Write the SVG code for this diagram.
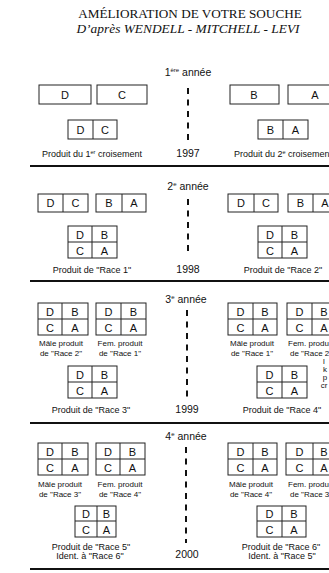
<svg xmlns="http://www.w3.org/2000/svg" width="329" height="573" viewBox="0 0 329 573">
<style>
.bx{fill:#fff;stroke:#222;stroke-width:1}
.dv{stroke:#222;stroke-width:1}
.l{font-family:"Liberation Sans",Arial,sans-serif;font-size:11px;fill:#111;text-anchor:middle}
.t{font-family:"Liberation Sans",Arial,sans-serif;font-size:9px;fill:#111;text-anchor:middle}
.s{font-family:"Liberation Sans",Arial,sans-serif;font-size:8px;fill:#111;text-anchor:middle}
.st{text-anchor:start}
.y{font-family:"Liberation Sans",Arial,sans-serif;font-size:10.5px;fill:#111;text-anchor:middle}
.sep{stroke:#111;stroke-width:2}
.dash{stroke:#111;stroke-width:2;stroke-dasharray:6 5.5}
</style>
<rect width="329" height="573" fill="#fff"/>
<g id="title">
<text x="190" y="18" font-family="Liberation Serif,'Times New Roman',serif" font-size="13.2" text-anchor="middle" fill="#111">AMÉLIORATION DE VOTRE SOUCHE</text>
<text x="188" y="33" font-family="Liberation Serif,'Times New Roman',serif" font-size="13.4" font-style="italic" text-anchor="middle" fill="#111">D’après WENDELL - MITCHELL - LEVI</text>
</g>
<g id="connectors">
<line class="sep" x1="30" y1="166" x2="329" y2="166"/>
<line class="sep" x1="30" y1="281" x2="329" y2="281"/>
<line class="sep" x1="30" y1="423" x2="329" y2="423"/>
<line class="sep" x1="30" y1="569" x2="329" y2="569"/>
<line class="dash" x1="188" y1="88" x2="188" y2="142"/>
<line class="dash" x1="188" y1="199" x2="188" y2="253"/>
<line class="dash" x1="187" y1="310" x2="187" y2="402"/>
<line class="dash" x1="186" y1="447" x2="186" y2="543"/>
</g>
<g id="years">
<text class="y" x="188" y="76">1<tspan font-size="6" dy="-4">ère</tspan><tspan dy="4"> année</tspan></text>
<text class="y" x="188" y="157">1997</text>
<text class="y" x="188" y="190">2<tspan font-size="6" dy="-4">e</tspan><tspan dy="4"> année</tspan></text>
<text class="y" x="188" y="273">1998</text>
<text class="y" x="186" y="303">3<tspan font-size="6" dy="-4">e</tspan><tspan dy="4"> année</tspan></text>
<text class="y" x="187" y="413">1999</text>
<text class="y" x="186" y="440">4<tspan font-size="6" dy="-4">e</tspan><tspan dy="4"> année</tspan></text>
<text class="y" x="187" y="558">2000</text>
</g>
<!-- Section 1 -->
<g id="s1-D"><rect class="bx" x="39" y="85" width="52" height="19"/><text class="l" x="65" y="99">D</text></g>
<g id="s1-C"><rect class="bx" x="97" y="85" width="50" height="19"/><text class="l" x="122" y="99">C</text></g>
<g id="s1-B"><rect class="bx" x="230" y="85" width="49" height="19"/><text class="l" x="254" y="99">B</text></g>
<g id="s1-A"><rect class="bx" x="288" y="85" width="50" height="19"/><text class="l" x="315" y="99">A</text></g>
<g id="s1-DC"><rect class="bx" x="68" y="120" width="49" height="19"/><line class="dv" x1="93" y1="120" x2="93" y2="139"/><text class="l" x="80.5" y="134">D</text><text class="l" x="105" y="134">C</text><text class="t" x="92" y="157">Produit du 1<tspan font-size="5.5" dy="-3.5">er</tspan><tspan dy="3.5"> croisement</tspan></text></g>
<g id="s1-BA"><rect class="bx" x="258" y="120" width="50" height="19"/><line class="dv" x1="283" y1="120" x2="283" y2="139"/><text class="l" x="270.5" y="134">B</text><text class="l" x="295.5" y="134">A</text><text class="t st" x="234" y="157" font-size="8.8">Produit du 2<tspan font-size="5.5" dy="-3.5">e</tspan><tspan dy="3.5"> croisemen</tspan></text></g>
<!-- Section 2 -->
<g id="s2-DC-l"><rect class="bx" x="38" y="194" width="50" height="18"/><line class="dv" x1="63" y1="194" x2="63" y2="212"/><text class="l" x="50.5" y="207">D</text><text class="l" x="75.5" y="207">C</text></g>
<g id="s2-BA-l"><rect class="bx" x="96" y="194" width="50" height="18"/><line class="dv" x1="122" y1="194" x2="122" y2="212"/><text class="l" x="109" y="207">B</text><text class="l" x="134" y="207">A</text></g>
<g id="s2-DC-r"><rect class="bx" x="228" y="194" width="50" height="18"/><line class="dv" x1="254" y1="194" x2="254" y2="212"/><text class="l" x="241" y="207">D</text><text class="l" x="266" y="207">C</text></g>
<g id="s2-BA-r"><rect class="bx" x="288" y="194" width="50" height="18"/><line class="dv" x1="313" y1="194" x2="313" y2="212"/><text class="l" x="300.5" y="207">B</text><text class="l" x="325" y="207">A</text></g>
<g id="s2-race1"><rect class="bx" x="68" y="226" width="49" height="32"/><line class="dv" x1="92" y1="226" x2="92" y2="258"/><line class="dv" x1="68" y1="242" x2="117" y2="242"/><text class="l" x="80" y="239">D</text><text class="l" x="104.5" y="239">B</text><text class="l" x="80" y="255">C</text><text class="l" x="104.5" y="255">A</text><text class="t" x="92" y="273">Produit de "Race 1"</text></g>
<g id="s2-race2"><rect class="bx" x="258" y="226" width="49" height="32"/><line class="dv" x1="282" y1="226" x2="282" y2="258"/><line class="dv" x1="258" y1="242" x2="307" y2="242"/><text class="l" x="270" y="239">D</text><text class="l" x="294.5" y="239">B</text><text class="l" x="270" y="255">C</text><text class="l" x="294.5" y="255">A</text><text class="t" x="283" y="273">Produit de "Race 2"</text></g>
<!-- Section 3 -->
<g id="s3-m-l"><rect class="bx" x="38" y="303" width="50" height="32"/><line class="dv" x1="62" y1="303" x2="62" y2="335"/><line class="dv" x1="38" y1="319" x2="88" y2="319"/><text class="l" x="50" y="316">D</text><text class="l" x="75" y="316">B</text><text class="l" x="50" y="332">C</text><text class="l" x="75" y="332">A</text><text class="s" x="61" y="346">Mâle produit</text><text class="s" x="61" y="356">de "Race 2"</text></g>
<g id="s3-f-l"><rect class="bx" x="96" y="303" width="50" height="32"/><line class="dv" x1="121" y1="303" x2="121" y2="335"/><line class="dv" x1="96" y1="319" x2="146" y2="319"/><text class="l" x="108.5" y="316">D</text><text class="l" x="133.5" y="316">B</text><text class="l" x="108.5" y="332">C</text><text class="l" x="133.5" y="332">A</text><text class="s" x="120" y="346">Fem. produit</text><text class="s" x="120" y="356">de "Race 1"</text></g>
<g id="s3-m-r"><rect class="bx" x="228" y="303" width="49" height="32"/><line class="dv" x1="253" y1="303" x2="253" y2="335"/><line class="dv" x1="228" y1="319" x2="277" y2="319"/><text class="l" x="240.5" y="316">D</text><text class="l" x="265" y="316">B</text><text class="l" x="240.5" y="332">C</text><text class="l" x="265" y="332">A</text><text class="s" x="252" y="346">Mâle produit</text><text class="s" x="252" y="356">de "Race 1"</text></g>
<g id="s3-f-r"><rect class="bx" x="287" y="303" width="50" height="32"/><line class="dv" x1="312" y1="303" x2="312" y2="335"/><line class="dv" x1="287" y1="319" x2="337" y2="319"/><text class="l" x="299.5" y="316">D</text><text class="l" x="324" y="316">B</text><text class="l" x="299.5" y="332">C</text><text class="l" x="324" y="332">A</text><text class="s st" x="288" y="346">Fem. produ</text><text class="s st" x="290" y="356">de "Race 2</text></g>
<g id="s3-race3"><rect class="bx" x="68" y="366" width="49" height="32"/><line class="dv" x1="92" y1="366" x2="92" y2="398"/><line class="dv" x1="68" y1="382" x2="117" y2="382"/><text class="l" x="80" y="379">D</text><text class="l" x="104.5" y="379">B</text><text class="l" x="80" y="395">C</text><text class="l" x="104.5" y="395">A</text><text class="t" x="91" y="413">Produit de "Race 3"</text></g>
<g id="s3-race4"><rect class="bx" x="257" y="366" width="50" height="32"/><line class="dv" x1="282" y1="366" x2="282" y2="398"/><line class="dv" x1="257" y1="382" x2="307" y2="382"/><text class="l" x="269.5" y="379">D</text><text class="l" x="294.5" y="379">B</text><text class="l" x="269.5" y="395">C</text><text class="l" x="294.5" y="395">A</text><text class="t" x="282" y="413">Produit de "Race 4"</text></g>
<g id="s3-note"><text class="s" x="324" y="364">l</text><text class="s" x="325" y="372">k</text><text class="s" x="325" y="380">p</text><text class="s" x="324" y="388">cr</text></g>
<!-- Section 4 -->
<g id="s4-m-l"><rect class="bx" x="38" y="443" width="50" height="32"/><line class="dv" x1="62" y1="443" x2="62" y2="475"/><line class="dv" x1="38" y1="459" x2="88" y2="459"/><text class="l" x="50" y="456">D</text><text class="l" x="75" y="456">B</text><text class="l" x="50" y="472">C</text><text class="l" x="75" y="472">A</text><text class="s" x="60" y="487">Mâle produit</text><text class="s" x="60" y="497">de "Race 3"</text></g>
<g id="s4-f-l"><rect class="bx" x="96" y="443" width="49" height="32"/><line class="dv" x1="120" y1="443" x2="120" y2="475"/><line class="dv" x1="96" y1="459" x2="145" y2="459"/><text class="l" x="108" y="456">D</text><text class="l" x="132.5" y="456">B</text><text class="l" x="108" y="472">C</text><text class="l" x="132.5" y="472">A</text><text class="s" x="120" y="487">Fem. produit</text><text class="s" x="120" y="497">de "Race 4"</text></g>
<g id="s4-m-r"><rect class="bx" x="228" y="443" width="49" height="32"/><line class="dv" x1="253" y1="443" x2="253" y2="475"/><line class="dv" x1="228" y1="459" x2="277" y2="459"/><text class="l" x="240.5" y="456">D</text><text class="l" x="265" y="456">B</text><text class="l" x="240.5" y="472">C</text><text class="l" x="265" y="472">A</text><text class="s" x="251" y="487">Mâle produit</text><text class="s" x="251" y="497">de "Race 4"</text></g>
<g id="s4-f-r"><rect class="bx" x="286" y="443" width="50" height="32"/><line class="dv" x1="313" y1="443" x2="313" y2="475"/><line class="dv" x1="286" y1="459" x2="336" y2="459"/><text class="l" x="299.5" y="456">D</text><text class="l" x="324" y="456">B</text><text class="l" x="299.5" y="472">C</text><text class="l" x="324" y="472">A</text><text class="s st" x="288" y="487">Fem. produ</text><text class="s st" x="290" y="497">de "Race 3</text></g>
<g id="s4-race5"><rect class="bx" x="75" y="506" width="41" height="31"/><line class="dv" x1="97" y1="506" x2="97" y2="537"/><line class="dv" x1="75" y1="521" x2="116" y2="521"/><text class="l" x="86" y="518">D</text><text class="l" x="106.5" y="518">B</text><text class="l" x="86" y="534">C</text><text class="l" x="106.5" y="534">A</text><text class="t" x="91" y="550">Produit de "Race 5"</text><text class="t" x="90" y="559">Ident. à "Race 6"</text></g>
<g id="s4-race6"><rect class="bx" x="257" y="506" width="49" height="31"/><line class="dv" x1="282" y1="506" x2="282" y2="537"/><line class="dv" x1="257" y1="521" x2="306" y2="521"/><text class="l" x="269.5" y="518">D</text><text class="l" x="294" y="518">B</text><text class="l" x="269.5" y="534">C</text><text class="l" x="294" y="534">A</text><text class="t" x="281" y="550">Produit de "Race 6"</text><text class="t" x="282" y="559">Ident. à "Race 5"</text></g>
</svg>
